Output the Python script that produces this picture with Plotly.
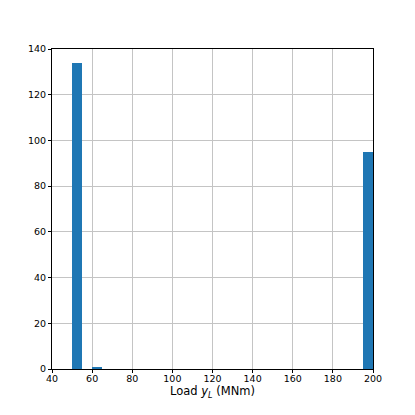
import plotly.graph_objects as go

# histogram bins (left edges), bin width and counts
bin_left = [50, 60, 195]
bin_width = 5
counts = [134, 1, 95]

x_ticks = [40, 60, 80, 100, 120, 140, 160, 180, 200]
y_ticks = [0, 20, 40, 60, 80, 100, 120, 140]

centers = [b + bin_width / 2 for b in bin_left]

fig = go.Figure(go.Bar(
    x=centers, y=counts, width=[bin_width] * len(counts),
    marker_color='#1f77b4', marker_line_width=0))

axis_style = dict(
    showline=True, linecolor='black', linewidth=1, mirror=True,
    showgrid=True, gridcolor='#c4c4c4', gridwidth=0.8,
    ticks='outside', ticklen=3, tickwidth=0.8, tickcolor='black',
    tickfont=dict(family='DejaVu Sans', size=9.5, color='black'),
    zeroline=False)

fig.update_xaxes(range=[40, 200], tickvals=x_ticks, ticklabelstandoff=-2,
                 **axis_style,
                 title=dict(text='Load <i>y</i><sub><i>L</i></sub> (MNm)',
                            font=dict(family='DejaVu Sans', size=11.5, color='black'),
                            standoff=0))
fig.update_yaxes(range=[0, 140], tickvals=y_ticks, **axis_style)
fig.update_layout(
    width=415, height=415, showlegend=False,
    plot_bgcolor='white', paper_bgcolor='white',
    margin=dict(l=44, r=50, t=41, b=54), bargap=0)
fig.write_html('out.html')
